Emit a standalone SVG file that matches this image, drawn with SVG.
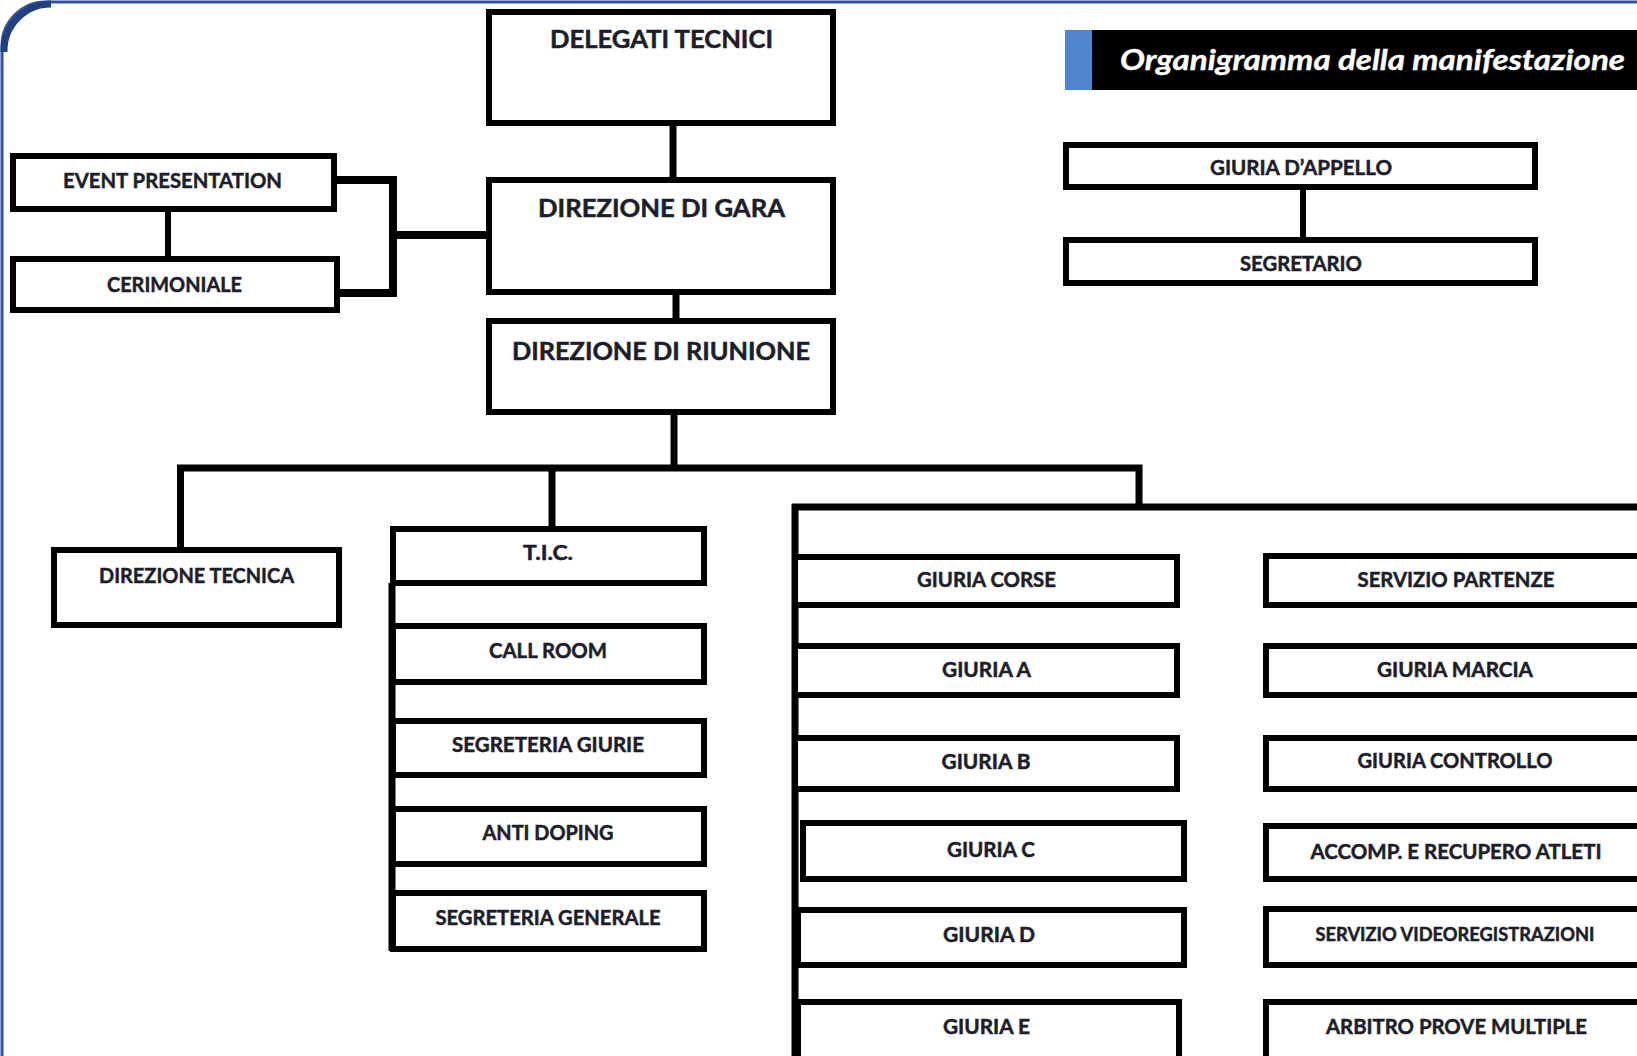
<svg xmlns="http://www.w3.org/2000/svg" width="1637" height="1056" viewBox="0 0 1637 1056">
<style>
.box{fill:#ffffff;stroke:#000000;stroke-width:6}
.ln{fill:none;stroke:#000000;stroke-width:7;stroke-linecap:butt;stroke-linejoin:miter}
.t{font-family:Lato,"Liberation Sans",Arial,sans-serif;font-weight:bold;fill:#1e1e2a;stroke:#1e1e2a;stroke-width:0.5;text-anchor:middle}
.big{font-size:24px}
.mid{font-size:21px}
.sm{font-size:20px}
.title{font-family:Lato,"Liberation Sans",Arial,sans-serif;font-weight:bold;font-style:italic;font-size:29px;fill:#ffffff;stroke:#ffffff;stroke-width:0.4}
</style>
<rect x="0" y="0" width="1637" height="1056" fill="#ffffff"/>
<g id="frame">
<path d="M 2 1056 V 46 A 44 44 0 0 1 46 2 H 1637" fill="none" stroke="#33539a" stroke-width="3"/>
<path d="M 4 52 A 47 47 0 0 1 51 4" fill="none" stroke="#22407e" stroke-width="7"/>
</g>
<g id="title">
<rect x="1065" y="30" width="27" height="60" fill="#4f86cf"/>
<rect x="1092" y="30" width="545" height="60" fill="#000000"/>
<text class="title" x="1120" y="70" textLength="505" lengthAdjust="spacingAndGlyphs">Organigramma della manifestazione</text>
</g>
<g id="connectors">
<line class="ln" x1="673" y1="125" x2="673" y2="178"/>
<line class="ln" x1="676" y1="294" x2="676" y2="319"/>
<line class="ln" x1="674" y1="414" x2="674" y2="468"/>
<line class="ln" x1="168" y1="211" x2="168" y2="257" style="stroke-width:6"/>
<path class="ln" d="M 336 180 H 393 V 293 H 339" style="stroke-width:8"/>
<line class="ln" x1="393" y1="235" x2="487" y2="235" style="stroke-width:8"/>
<path class="ln" d="M 180.5 548 V 468 H 1139 V 507"/>
<line class="ln" x1="552" y1="468" x2="552" y2="527"/>
<line class="ln" x1="392" y1="583" x2="392" y2="951"/>
<line class="ln" x1="792" y1="507" x2="1637" y2="507"/>
<line class="ln" x1="795" y1="504" x2="795" y2="1056"/>
<line class="ln" x1="1303" y1="189" x2="1303" y2="238" style="stroke-width:6"/>
</g>
<g id="delegati-tecnici"><rect class="box" x="489" y="12" width="344" height="111"/><text class="t big" x="661.5" y="48" textLength="223" lengthAdjust="spacingAndGlyphs">DELEGATI TECNICI</text></g>
<g id="direzione-gara"><rect class="box" x="489" y="180" width="344" height="112"/><text class="t big" x="661.5" y="217" textLength="247" lengthAdjust="spacingAndGlyphs">DIREZIONE DI GARA</text></g>
<g id="direzione-riunione"><rect class="box" x="489" y="321" width="344" height="91"/><text class="t big" x="661" y="360" textLength="298" lengthAdjust="spacingAndGlyphs">DIREZIONE DI RIUNIONE</text></g>
<g id="event-presentation"><rect class="box" x="13" y="156" width="321" height="53"/><text class="t mid" x="172.5" y="188" textLength="219" lengthAdjust="spacingAndGlyphs">EVENT PRESENTATION</text></g>
<g id="cerimoniale"><rect class="box" x="13" y="259" width="324" height="51"/><text class="t mid" x="174.5" y="292" textLength="135" lengthAdjust="spacingAndGlyphs">CERIMONIALE</text></g>
<g id="giuria-appello"><rect class="box" x="1066" y="145" width="469" height="42"/><text class="t sm" x="1301" y="175" textLength="182" lengthAdjust="spacingAndGlyphs">GIURIA D’APPELLO</text></g>
<g id="segretario"><rect class="box" x="1066" y="240" width="469" height="43"/><text class="t sm" x="1301" y="271" textLength="122" lengthAdjust="spacingAndGlyphs">SEGRETARIO</text></g>
<g id="direzione-tecnica"><rect class="box" x="54" y="550" width="285" height="75"/><text class="t mid" x="196.5" y="583" textLength="195" lengthAdjust="spacingAndGlyphs">DIREZIONE TECNICA</text></g>
<g id="tic"><rect class="box" x="393" y="529" width="311" height="54"/><text class="t sm" x="548" y="560" textLength="50" lengthAdjust="spacingAndGlyphs">T.I.C.</text></g>
<g id="call-room"><rect class="box" x="393" y="626" width="311" height="56"/><text class="t sm" x="548" y="658" textLength="118" lengthAdjust="spacingAndGlyphs">CALL ROOM</text></g>
<g id="segreteria-giurie"><rect class="box" x="393" y="721" width="311" height="54"/><text class="t sm" x="548" y="752" textLength="192" lengthAdjust="spacingAndGlyphs">SEGRETERIA GIURIE</text></g>
<g id="anti-doping"><rect class="box" x="393" y="809" width="311" height="55"/><text class="t sm" x="548" y="840" textLength="131" lengthAdjust="spacingAndGlyphs">ANTI DOPING</text></g>
<g id="segreteria-generale"><rect class="box" x="393" y="893" width="311" height="56"/><text class="t sm" x="548" y="925" textLength="225" lengthAdjust="spacingAndGlyphs">SEGRETERIA GENERALE</text></g>
<g id="giuria-corse"><rect class="box" x="795" y="557" width="382" height="48"/><text class="t sm" x="986.5" y="587" textLength="139" lengthAdjust="spacingAndGlyphs">GIURIA CORSE</text></g>
<g id="giuria-a"><rect class="box" x="795" y="646" width="382" height="49"/><text class="t sm" x="986.5" y="677" textLength="89" lengthAdjust="spacingAndGlyphs">GIURIA A</text></g>
<g id="giuria-b"><rect class="box" x="795" y="738" width="382" height="51"/><text class="t sm" x="986" y="769" textLength="89" lengthAdjust="spacingAndGlyphs">GIURIA B</text></g>
<g id="giuria-c"><rect class="box" x="803" y="823" width="381" height="56"/><text class="t sm" x="991" y="857" textLength="88" lengthAdjust="spacingAndGlyphs">GIURIA C</text></g>
<g id="giuria-d"><rect class="box" x="798" y="910" width="386" height="55"/><text class="t sm" x="989" y="942" textLength="92" lengthAdjust="spacingAndGlyphs">GIURIA D</text></g>
<g id="giuria-e"><rect class="box" x="798" y="1002" width="381" height="70"/><text class="t sm" x="986.5" y="1034" textLength="87" lengthAdjust="spacingAndGlyphs">GIURIA E</text></g>
<g id="servizio-partenze"><rect class="box" x="1266" y="556" width="400" height="49"/><text class="t sm" x="1456" y="587" textLength="197" lengthAdjust="spacingAndGlyphs">SERVIZIO PARTENZE</text></g>
<g id="giuria-marcia"><rect class="box" x="1266" y="646" width="400" height="49"/><text class="t sm" x="1455" y="677" textLength="156" lengthAdjust="spacingAndGlyphs">GIURIA MARCIA</text></g>
<g id="giuria-controllo"><rect class="box" x="1266" y="738" width="400" height="51"/><text class="t sm" x="1455" y="768" textLength="195" lengthAdjust="spacingAndGlyphs">GIURIA CONTROLLO</text></g>
<g id="accomp-recupero"><rect class="box" x="1266" y="826" width="400" height="53"/><text class="t sm" x="1456" y="859" textLength="291" lengthAdjust="spacingAndGlyphs">ACCOMP. E RECUPERO ATLETI</text></g>
<g id="servizio-videoregistrazioni"><rect class="box" x="1266" y="909" width="400" height="56"/><text class="t" style="font-size:18px" x="1455" y="941" textLength="279" lengthAdjust="spacingAndGlyphs">SERVIZIO VIDEOREGISTRAZIONI</text></g>
<g id="arbitro-prove-multiple"><rect class="box" x="1266" y="1002" width="400" height="70"/><text class="t sm" x="1456.5" y="1034" textLength="261" lengthAdjust="spacingAndGlyphs">ARBITRO PROVE MULTIPLE</text></g>
</svg>
